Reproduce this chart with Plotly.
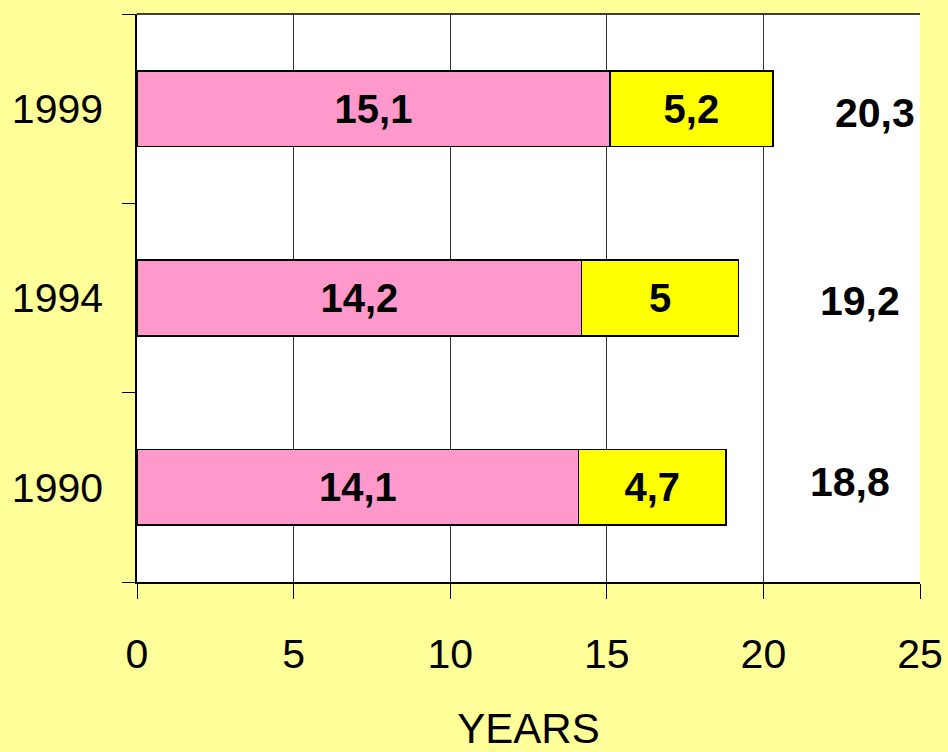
import plotly.graph_objects as go

years = ["1990", "1994", "1999"]
part_a = [14.1, 14.2, 15.1]
part_b = [4.7, 5.0, 5.2]
totals = [18.8, 19.2, 20.3]
x_ticks = [0, 5, 10, 15, 20, 25]


def fmt(v):
    s = f"{v:.1f}"
    if s.endswith(".0"):
        s = s[:-2]
    return s.replace(".", ",")


FONT = "Liberation Sans, Arial, sans-serif"
ypos = list(range(len(years)))

fig = go.Figure()
fig.add_trace(go.Bar(
    y=ypos, x=part_a, orientation="h", width=0.4,
    marker=dict(color="#FF99CC", line=dict(color="black", width=1.5)),
    text=[fmt(v) for v in part_a], textposition="inside",
    insidetextanchor="middle", textangle=0,
    textfont=dict(family=FONT, size=40, color="black"),
    showlegend=False,
))
fig.add_trace(go.Bar(
    y=ypos, x=part_b, orientation="h", width=0.4,
    marker=dict(color="#FFFF00", line=dict(color="black", width=1.5)),
    text=[fmt(v) for v in part_b], textposition="inside",
    insidetextanchor="middle", textangle=0,
    textfont=dict(family=FONT, size=40, color="black"),
    showlegend=False,
))

label_shift = [124, 122, 102]
label_yshift = [5, -3, -4]
for yp, t, dx, dy in zip(ypos, totals, label_shift, label_yshift):
    fig.add_annotation(
        x=t, y=yp, text="<b>" + fmt(t) + "</b>", showarrow=False,
        xshift=dx, yshift=dy, xanchor="center",
        font=dict(family=FONT, size=41, color="black"),
    )

fig.add_shape(type="line", xref="paper", yref="paper", x0=0, x1=1, y0=1, y1=1,
              line=dict(color="black", width=1.5))

fig.update_traces(texttemplate="<b>%{text}</b>")

fig.update_layout(
    width=948, height=752,
    barmode="stack",
    paper_bgcolor="#FFFF99", plot_bgcolor="white",
    margin=dict(l=137, r=28, t=14, b=170),
    font=dict(family=FONT, size=41, color="black"),
    xaxis=dict(
        range=[0, 25], tickvals=x_ticks, ticktext=[str(v) for v in x_ticks],
        showgrid=True, gridcolor="#333333", gridwidth=1,
        showline=True, linecolor="black", linewidth=1.5,
        ticks="outside", ticklen=15, tickcolor="black", tickwidth=1,
        ticklabelstandoff=20,
        automargin=False,
        tickfont=dict(family=FONT, size=41),
        title=dict(text="YEARS", font=dict(family=FONT, size=42), standoff=38),
        zeroline=False,
    ),
    yaxis=dict(
        range=[-0.5, len(years) - 0.5],
        tickvals=ypos, ticktext=years, ticks="",
        ticklabelstandoff=24,
        showline=True, linecolor="black", linewidth=1.5,
        showgrid=False, zeroline=False, automargin=False,
        tickfont=dict(family=FONT, size=41),
        minor=dict(tick0=-0.5, dtick=1, ticks="outside", ticklen=13,
                   tickcolor="black", tickwidth=1, showgrid=False),
    ),
)

fig.write_html("out.html", config={"displayModeBar": False},
               post_script="document.body.style.margin='0';")
